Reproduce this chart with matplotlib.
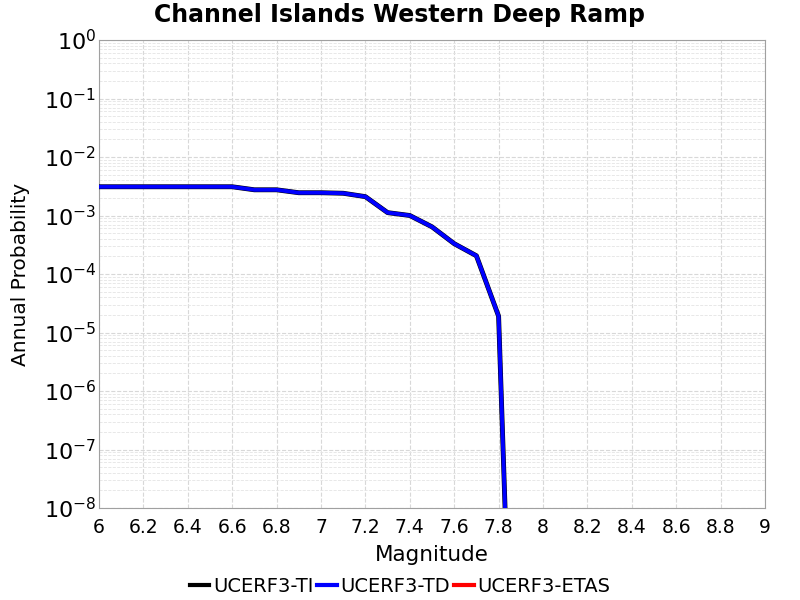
import matplotlib
matplotlib.use("Agg")
import matplotlib.pyplot as plt
from matplotlib.ticker import FixedLocator, LogLocator, NullFormatter
import numpy as np

title = "Channel Islands Western Deep Ramp"
magnitudes = [6.0, 6.1, 6.2, 6.3, 6.4, 6.5, 6.6, 6.7, 6.8, 6.9, 7.0, 7.1, 7.2,
              7.3, 7.4, 7.5, 7.6, 7.7, 7.8, 7.9]
prob_ti = [3.1e-3, 3.1e-3, 3.1e-3, 3.1e-3, 3.1e-3, 3.1e-3, 3.1e-3, 2.75e-3, 2.75e-3,
           2.45e-3, 2.45e-3, 2.4e-3, 2.1e-3, 1.12e-3, 1.0e-3, 6.4e-4, 3.3e-4,
           2.05e-4, 1.9e-5, 1e-16]
prob_td = list(prob_ti)
prob_etas = []
x_ticks = [6, 6.2, 6.4, 6.6, 6.8, 7, 7.2, 7.4, 7.6, 7.8, 8, 8.2, 8.4, 8.6, 8.8, 9]
x_tick_labels = ["6", "6.2", "6.4", "6.6", "6.8", "7", "7.2", "7.4", "7.6", "7.8",
                 "8", "8.2", "8.4", "8.6", "8.8", "9"]
y_exponents = [0, -1, -2, -3, -4, -5, -6, -7, -8]

fig = plt.figure(figsize=(8, 6), dpi=100)
ax = fig.add_axes([99/800, 1-508/600, (765-99)/800, (508-40)/600])

ax.plot(magnitudes, prob_ti, color="black", lw=3.5, label="UCERF3-TI", zorder=3)
ax.plot(magnitudes, prob_td, color="blue", lw=2.8, label="UCERF3-TD", zorder=4)
ax.plot(magnitudes[:len(prob_etas)], prob_etas, color="red", lw=3, label="UCERF3-ETAS", zorder=5)

ax.set_yscale("log")
ax.set_xlim(6, 9)
ax.set_ylim(1e-8, 1)

ax.xaxis.set_major_locator(FixedLocator(x_ticks))
ax.set_xticklabels(x_tick_labels, fontsize=13.5)
yt = [10.0**e for e in y_exponents]
ax.set_yticks(yt)
ax.set_yticklabels([r"$\mathregular{10^{%d}}$" % e for e in y_exponents], fontsize=16)
ax.yaxis.set_minor_locator(LogLocator(base=10, subs=np.arange(2, 10), numticks=100))
ax.yaxis.set_minor_formatter(NullFormatter())
ax.tick_params(axis="y", which="both", length=0, pad=2)
ax.tick_params(axis="x", which="both", length=0, pad=7)

ax.grid(True, which="major", color="#d8d8d8", ls="--", lw=0.8)
ax.grid(True, which="minor", axis="y", color="#e4e4e4", ls="--", lw=0.6)
ax.set_axisbelow(True)
for s in ax.spines.values():
    s.set_color("#a0a0a0")

ax.set_xlabel("Magnitude", fontsize=15.5, labelpad=6)
ax.set_ylabel("Annual Probability", fontsize=14.5, labelpad=10)
fig.suptitle(title, fontsize=17, fontweight="bold", x=0.5, y=0.995)

leg = fig.legend(loc="lower center", bbox_to_anchor=(0.5, -0.022), ncol=3, frameon=False,
                 fontsize=14, handlelength=1.0, handletextpad=0.2, columnspacing=0.2)
for h in leg.get_lines():
    h.set_linewidth(3)

fig.savefig("out.png", dpi=100)
